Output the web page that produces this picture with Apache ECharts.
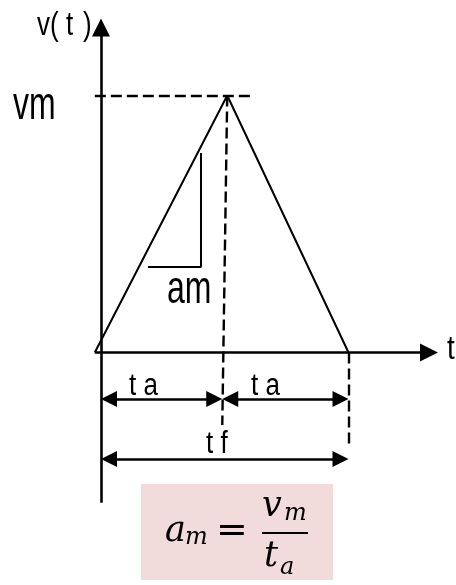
<!DOCTYPE html>
<html>
<head>
<meta charset="utf-8">
<script src="https://cdn.jsdelivr.net/npm/echarts/dist/echarts.min.js"></script>
<style>
html, body { margin: 0; padding: 0; background: #fff; }
#chart { width: 456px; height: 585px; }
</style>
</head>
<body>
<div id="chart"></div>
<script>
// velocity profile, t in units of ta, v in units of vm
const profileT = [-0.05, 1.02, 2.0];
const profileV = [0, 1, 0];
// axis extents (tips of the arrows)
const axisT = [-0.05, 2.723];
const axisV = [-0.585, 1.30];
// dashed helper lines
const vmGuideT = [-0.05, 1.23];
const peakDropT = [1.02, 0.98];
const peakDropV = [1, -0.282];
const endDropV = [0, -0.372];
// dimension arrows: 0, ta, tf
const dimT = [0, 0.98, 2.0];
const dimRowV = [-0.181, -0.414];
// slope mark (am)
const slopeT = [0.38, 0.808];
const slopeV = [0.333, 0.776];

const PX_T = 123.75, PX_V = 257;   // pixels per unit
const ORIGIN = [101, 352.5];
const W = 456, H = 585;

const chart = echarts.init(document.getElementById('chart'));

// move the end point back so the arrow head tip sits on it
function pullBack(from, to, px) {
  const dx = (to[0] - from[0]) * PX_T, dy = (to[1] - from[1]) * PX_V;
  const len = Math.hypot(dx, dy);
  return [to[0] - dx / len * px / PX_T, to[1] - dy / len * px / PX_V];
}
function arrow(a, b, size, both) {
  return { coords: [both ? pullBack(b, a, size / 2) : a, pullBack(a, b, size / 2)] };
}

function txt(text, x, y, size, sy) {
  return {
    type: 'text', x: x, y: y, scaleY: sy || 1,
    style: {
      text: text, fill: '#000', fontSize: size,
      fontFamily: '"Liberation Sans", Arial, sans-serif',
      align: 'left', verticalAlign: 'middle'
    }
  };
}
function math(text, x, y, size) {
  return {
    type: 'text', x: x, y: y,
    style: {
      text: text, fill: '#000', fontSize: size, fontStyle: 'italic',
      fontFamily: '"DejaVu Serif", serif',
      align: 'left', verticalAlign: 'middle'
    }
  };
}

const AX_HEAD = 18, DIM_HEAD = 16;

const option = {
  animation: false,
  grid: { left: 0, right: 0, top: 0, bottom: 0 },
  xAxis: {
    type: 'value', show: false,
    min: -ORIGIN[0] / PX_T, max: (W - ORIGIN[0]) / PX_T
  },
  yAxis: {
    type: 'value', show: false,
    min: -(H - ORIGIN[1]) / PX_V, max: ORIGIN[1] / PX_V
  },
  series: [
    {
      // axes
      type: 'lines', coordinateSystem: 'cartesian2d', silent: true,
      symbol: ['none', 'triangle'], symbolSize: AX_HEAD,
      lineStyle: { color: '#000', width: 2.6, opacity: 1 },
      data: [
        arrow([axisT[0], 0], [axisT[1], 0], AX_HEAD),
        arrow([0, axisV[0]], [0, axisV[1]], AX_HEAD)
      ]
    },
    {
      type: 'line', silent: true, showSymbol: false,
      lineStyle: { color: '#000', width: 2 },
      data: profileT.map((t, i) => [t, profileV[i]])
    },
    {
      type: 'line', silent: true, showSymbol: false,
      lineStyle: { color: '#000', width: 2 },
      data: [[slopeT[0], slopeV[0]], [slopeT[1], slopeV[0]], [slopeT[1], slopeV[1]]]
    },
    {
      // dashed guides
      type: 'lines', coordinateSystem: 'cartesian2d', silent: true,
      lineStyle: { color: '#000', width: 2.4, type: [11, 5], opacity: 1 },
      data: [
        { coords: [[vmGuideT[0], 1], [vmGuideT[1], 1]] },
        { coords: [[peakDropT[0], peakDropV[0]], [peakDropT[1], peakDropV[1]]] },
        { coords: [[dimT[2], endDropV[0]], [dimT[2], endDropV[1]]] }
      ]
    },
    {
      // ta / ta / tf dimension arrows
      type: 'lines', coordinateSystem: 'cartesian2d', silent: true,
      symbol: ['triangle', 'triangle'], symbolSize: DIM_HEAD,
      lineStyle: { color: '#000', width: 2.6, opacity: 1 },
      data: [
        arrow([dimT[0], dimRowV[0]], [dimT[1], dimRowV[0]], DIM_HEAD, true),
        arrow([dimT[1], dimRowV[0]], [dimT[2], dimRowV[0]], DIM_HEAD, true),
        arrow([dimT[0], dimRowV[1]], [dimT[2], dimRowV[1]], DIM_HEAD, true)
      ]
    }
  ],
  graphic: [
    txt('v', 37, 26, 26, 1.25),
    txt('(', 50, 26, 26, 1.25),
    txt('t', 66, 26, 26, 1.25),
    txt(')', 83, 26, 26, 1.25),
    txt('vm', 13, 106, 32, 1.45),
    txt('am', 167, 290, 32, 1.45),
    txt('t a', 129, 386, 26, 1.2),
    txt('t a', 251, 386, 26, 1.2),
    txt('t f', 206, 444, 26, 1.2),
    txt('t', 447, 350, 28, 1.2),
    { type: 'rect', shape: { x: 141, y: 484, width: 192, height: 96 }, style: { fill: '#f2dcdb' } },
    math('a', 165, 532, 35),
    math('m', 185, 538, 24),
    { type: 'text', x: 232, y: 532, style: { text: '=', fill: '#000', fontSize: 38, fontFamily: '"DejaVu Serif", serif', align: 'center', verticalAlign: 'middle' } },
    { type: 'line', shape: { x1: 262, y1: 533, x2: 308, y2: 533 }, style: { stroke: '#000', lineWidth: 1.8 } },
    math('v', 262, 507, 35),
    math('m', 284, 514, 24),
    math('t', 264, 557, 35),
    math('a', 280, 568, 24)
  ]
};

chart.setOption(option);
</script>
</body>
</html>
